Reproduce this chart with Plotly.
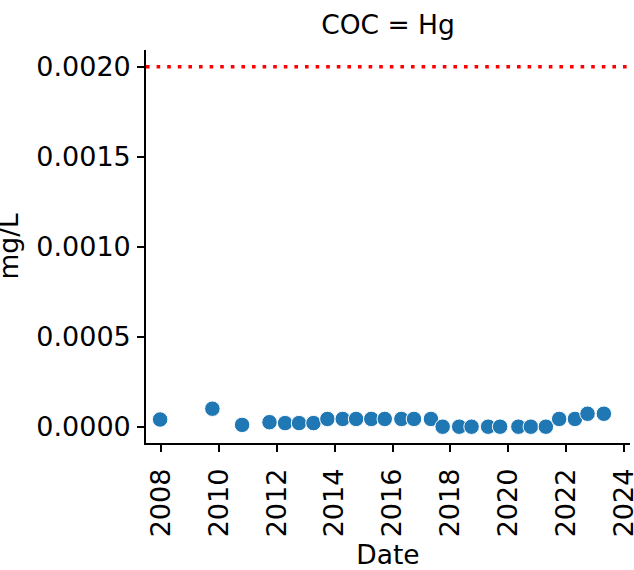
import plotly.graph_objects as go

# ---- data ----
dates = ["2007-12-20", "2009-10-10", "2010-10-20", "2011-10-01", "2012-04-15",
         "2012-10-08", "2013-04-08", "2013-10-01", "2014-04-12", "2014-09-28",
         "2015-04-08", "2015-09-25", "2016-04-22", "2016-09-28", "2017-04-30",
         "2017-09-25", "2018-04-22", "2018-09-25", "2019-04-22", "2019-09-20",
         "2020-05-08", "2020-10-12", "2021-04-20", "2021-10-05", "2022-04-22",
         "2022-09-28", "2023-04-22"]
values = [0.00004, 0.0001, 0.00001, 0.000025, 0.00002,
          0.00002, 0.00002, 0.000043, 0.000043, 0.000043,
          0.000043, 0.000043, 0.000043, 0.000043, 0.000043,
          0.0, 0.0, 0.0, 0.0, 0.0,
          0.0, 0.0, 0.0, 0.000043, 0.000043,
          0.000072, 0.000072]
threshold = 0.002
title_text = "COC = Hg"
x_label = "Date"
y_label = "mg/L"
y_ticks = [0.0, 0.0005, 0.001, 0.0015, 0.002]

FONT = "DejaVu Sans"
TICK_FS = 27
LABEL_FS = 26.5

W, H = 634, 570
ML, MR, MT, MB = 146, 4, 50, 127
PW = W - ML - MR

fig = go.Figure()
fig.add_trace(go.Scatter(
    x=dates, y=values, mode="markers",
    marker=dict(color="#1f77b4", size=15.5, line=dict(color="white", width=1)),
    showlegend=False,
))
fig.add_shape(type="line", xref="paper", x0=0, x1=1, yref="y", y0=threshold, y1=threshold,
              line=dict(color="red", width=3.6, dash="3.6px,7px"))

fig.add_annotation(text=y_label, textangle=-90, xref="paper", yref="paper",
                   x=(8 - ML) / PW, y=0.5, xanchor="center", yanchor="middle",
                   showarrow=False, font=dict(size=LABEL_FS))

fig.update_layout(
    template="none",
    width=W, height=H,
    margin=dict(l=ML, r=MR, t=MT, b=MB),
    plot_bgcolor="white", paper_bgcolor="white",
    font=dict(family=FONT, size=TICK_FS, color="black"),
    title=dict(text=title_text, x=388 / W, xanchor="center", y=1 - 25 / H,
               yanchor="middle", font=dict(size=LABEL_FS)),
    xaxis=dict(
        type="date", range=["2007-06-25", "2024-03-17"], automargin=False,
        tickmode="linear", tick0="2008-01-01", dtick="M24", tickformat="%Y",
        tickangle=-90, ticks="outside", ticklen=7, tickwidth=1.7, tickcolor="black",
        tickfont=dict(size=TICK_FS), ticklabeloverflow="allow",
        showline=True, linecolor="black", linewidth=1.7, showgrid=False, zeroline=False,
        title=dict(text=x_label, font=dict(size=LABEL_FS)), ticklabelstandoff=6,
    ),
    yaxis=dict(
        range=[-0.0000906, 0.002093], tickvals=y_ticks, tickformat=".4f", automargin=False,
        ticks="outside", ticklen=7, tickwidth=1.7, tickcolor="black",
        tickfont=dict(size=TICK_FS),
        showline=True, linecolor="black", linewidth=1.7, showgrid=False, zeroline=False,
        ticklabelstandoff=1,
    ),
)

# remove the browser's default 8px page margin so the figure sits at the top-left corner
fig.write_html("out.html", config={"displayModeBar": False},
               post_script="document.body.style.margin='0';")
